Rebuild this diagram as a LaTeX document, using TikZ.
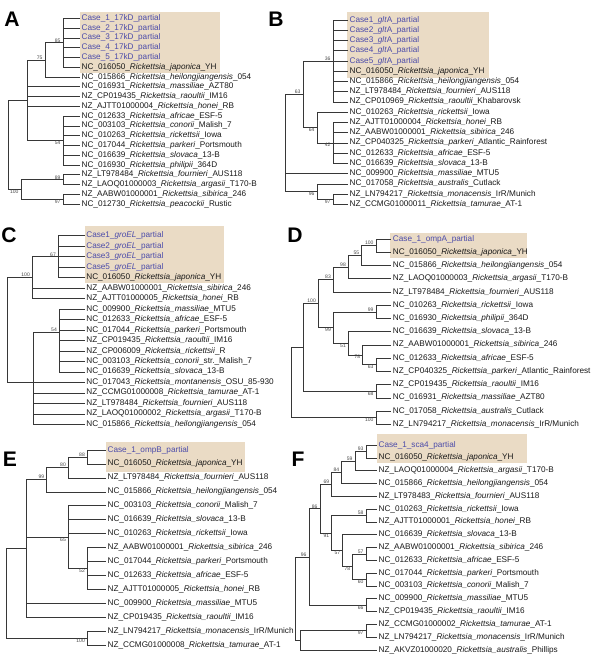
\documentclass[tikz,border=0pt]{standalone}
\usepackage{fontspec}
\setmainfont{Liberation Sans}
\usetikzlibrary{positioning}
\definecolor{boxtan}{RGB}{234,219,197}
\definecolor{casecol}{RGB}{76,76,170}
\definecolor{leafcol}{RGB}{25,25,25}
\definecolor{brcol}{RGB}{55,55,55}
\definecolor{bscol}{RGB}{70,70,70}
\newcommand\leaffont{\fontsize{7}{8}\selectfont}
\newcommand\bsfont{\fontsize{4.3}{5}\selectfont}
\newcommand\rick[1]{\textit{Rickettsia\_#1}}
\newcommand\clade[2]{\foreach \ch in {#2}{\draw[branch] (#1) |- (\ch);}}
\newcommand\bsa[2]{\node[bs,anchor=south east] at (#1) {#2};}
\newcommand\bsb[2]{\node[bs,anchor=north east] at (#1) {#2};}
\tikzset{
  leaf/.style={anchor=west, inner xsep=1.2pt, inner ysep=0pt, text height=5.1pt, text depth=1.6pt, font=\leaffont, text=leafcol},
  case/.style={leaf, text=casecol},
  branch/.style={draw=brcol, line width=0.5pt},
  bs/.style={font=\bsfont, text=bscol, inner sep=0.3pt, xshift=-1.6pt},
  panel/.style={font=\fontsize{18}{18}\selectfont\bfseries, inner sep=0pt}
}
\begin{document}
\begin{tikzpicture}[x=0.03cm,y=-0.03cm]
\useasboundingbox (0,0) rectangle (600,657);
%%%%% A : 17kD %%%%%
\fill[boxtan] (80,11.7) rectangle (220,73.3);
\node[panel] (pA) at (12,19) {A};
\foreach \tx [count=\i from 0] in {1,2,3,4,5}
  \node[case] (a\i) at (80,{18.3+9.78*\i}) {Case\_\tx\_17kD\_partial};
\foreach \tx [count=\i from 5] in {NC\_016050\_\rick{japonica}\_YH, NC\_015866\_\rick{heilongjiangensis}\_054, NC\_016931\_\rick{massiliae}\_AZT80, NZ\_CP019435\_\rick{raoultii}\_IM16, NZ\_AJTT01000004\_\rick{honei}\_RB, NC\_012633\_\rick{africae}\_ESF-5, NC\_003103\_\rick{conorii}\_Malish\_7, NC\_010263\_\rick{rickettsii}\_Iowa, NC\_017044\_\rick{parkeri}\_Portsmouth, NC\_016639\_\rick{slovaca}\_13-B, NC\_016930\_\rick{philipii}\_364D, NZ\_LT978484\_\rick{fournieri}\_AUS118, NZ\_LAOQ01000003\_\rick{argasii}\_T170-B, NZ\_AABW01000001\_\rick{sibirica}\_246, NC\_012730\_\rick{peacockii}\_Rustic}
  \node[leaf] (a\i) at (80,{18.3+9.78*\i}) {\tx};
\coordinate (a85) at (63,42.75);
\coordinate (a75) at (45,59.87);
\coordinate (a54) at (63,140.55);
\coordinate (aM) at (27,100.21);
\coordinate (a89) at (63,179.67);
\coordinate (a97) at (63,199.23);
\coordinate (a100) at (21,189.45);
\coordinate (aR) at (8,144.83);
\clade{a85}{a0.west,a1.west,a2.west,a3.west,a4.west,a5.west}
\clade{a75}{a85,a6.west}
\clade{a54}{a10.west,a11.west,a12.west,a13.west,a14.west,a15.west}
\clade{aM}{a75,a7.west,a8.west,a9.west,a54}
\clade{a89}{a16.west,a17.west}
\clade{a97}{a18.west,a19.west}
\clade{a100}{a89,a97}
\clade{aR}{aM,a100}
\bsa{a85}{85} \bsa{a75}{75} \bsb{a54}{54} \bsa{a89}{89} \bsb{a100}{100} \bsb{a97}{97}

%%%%% B : gltA %%%%%
\fill[boxtan] (346.7,11.7) rectangle (489.3,78.3);
\node[panel] (pB) at (276,19) {B};
\foreach \tx [count=\i from 0] in {1,2,3,4,5}
  \node[case] (b\i) at (348,{20+10.24*\i}) {Case\tx\_\textit{glt}A\_partial};
\foreach \tx [count=\i from 5] in {NC\_016050\_\rick{japonica}\_YH, NC\_015866\_\rick{heilongjiangensis}\_054, NZ\_LT978484\_\rick{fournieri}\_AUS118, NZ\_CP010969\_\rick{raoultii}\_Khabarovsk, NC\_010263\_\rick{rickettsii}\_Iowa, NZ\_AJTT01000004\_\rick{honei}\_RB, NZ\_AABW01000001\_\rick{sibirica}\_246, NZ\_CP040325\_\rick{parkeri}\_Atlantic\_Rainforest, NC\_012633\_\rick{africae}\_ESF-5, NC\_016639\_\rick{slovaca}\_13-B, NC\_009900\_\rick{massiliae}\_MTU5, NC\_017058\_\rick{australis}\_Cutlack, NZ\_LN794217\_\rick{monacensis}\_IrR/Munich, NZ\_CCMG01000011\_\rick{tamurae}\_AT-1}
  \node[leaf] (b\i) at (348,{20+10.24*\i}) {\tx};
\coordinate (b36) at (333,60.96);
\coordinate (b42) at (333,142.88);
\coordinate (b64) at (317,127.52);
\coordinate (b63) at (303,94.24);
\coordinate (b97) at (333,199.2);
\coordinate (b96) at (317,191.52);
\coordinate (bR) at (285,142.88);
\clade{b36}{b0.west,b1.west,b2.west,b3.west,b4.west,b5.west,b6.west,b7.west,b8.west}
\clade{b42}{b10.west,b11.west,b12.west,b13.west,b14.west}
\clade{b64}{b9.west,b42}
\clade{b63}{b36,b64}
\clade{b97}{b17.west,b18.west}
\clade{b96}{b16.west,b97}
\clade{bR}{b63,b15.west,b96}
\bsa{b36}{36} \bsa{b63}{63} \bsb{b64}{64} \bsb{b42}{42} \bsb{b96}{96} \bsb{b97}{97}

%%%%% C : groEL %%%%%
\fill[boxtan] (84.7,226.5) rectangle (224,282.5);
\node[panel] (pC) at (9,235) {C};
\foreach \tx [count=\i from 0] in {1,2,3,5}
  \node[case] (c\i) at (84.7,{235.7+10.48*\i}) {Case\tx\_\textit{groEL}\_partial};
\foreach \tx [count=\i from 4] in {NC\_016050\_\rick{japonica}\_YH, NZ\_AABW01000001\_\rick{sibirica}\_246, NZ\_AJTT01000005\_\rick{honei}\_RB, NC\_009900\_\rick{massiliae}\_MTU5, NC\_012633\_\rick{africae}\_ESF-5, NC\_017044\_\rick{parkeri}\_Portsmouth, NZ\_CP019435\_\rick{raoultii}\_IM16, NZ\_CP006009\_\rick{rickettsii}\_R, NC\_003103\_\rick{conorii}\_str.\_Malish\_7, NC\_016639\_\rick{slovaca}\_13-B, NC\_017043\_\rick{montanensis}\_OSU\_85-930, NZ\_CCMG01000008\_\rick{tamurae}\_AT-1, NZ\_LT978484\_\rick{fournieri}\_AUS118, NZ\_LAOQ01000002\_\rick{argasii}\_T170-B, NC\_015866\_\rick{heilongjiangensis}\_054}
  \node[leaf] (c\i) at (84.7,{235.7+10.48*\i}) {\tx};
\coordinate (c67) at (58.3,256.66);
\coordinate (c100) at (32.3,277.62);
\coordinate (c54) at (59.3,332);
\coordinate (cX) at (33.3,382.42);
\coordinate (cR) at (7.3,330.02);
\clade{c67}{c0.west,c1.west,c2.west,c3.west,c4.west}
\clade{c100}{c67,c5.west,c6.west}
\clade{c54}{c7.west,c8.west,c9.west,c10.west,c11.west,c12.west,c13.west}
\clade{cX}{c54,c14.west,c15.west,c16.west,c17.west,c18.west}
\clade{cR}{c100,cX}
\bsa{c67}{67} \bsa{c100}{100} \bsa{c54}{54}

%%%%% D : ompA %%%%%
\fill[boxtan] (390,233.3) rectangle (526.7,258.3);
\node[panel] (pD) at (295,235) {D};
\node[case] (d0) at (391.3,239) {Case\_1\_ompA\_partial};
\foreach \tx [count=\i from 1] in {NC\_016050\_\rick{japonica}\_YH, NC\_015866\_\rick{heilongjiangensis}\_054, NZ\_LAOQ01000003\_\rick{argasii}\_T170-B, NZ\_LT978484\_\rick{fournieri}\_AUS118, NC\_010263\_\rick{rickettsii}\_Iowa, NC\_016930\_\rick{philipii}\_364D, NC\_016639\_\rick{slovaca}\_13-B, NZ\_AABW01000001\_\rick{sibirica}\_246, NC\_012633\_\rick{africae}\_ESF-5, NZ\_CP040325\_\rick{parkeri}\_Atlantic\_Rainforest, NZ\_CP019435\_\rick{raoultii}\_IM16, NC\_016931\_\rick{massiliae}\_AZT80, NC\_017058\_\rick{australis}\_Cutlack, NZ\_LN794217\_\rick{monacensis}\_IrR/Munich}
  \node[leaf] (d\i) at (391.3,{239+13.24*\i}) {\tx};
\coordinate (d100a) at (376,245.62);
\coordinate (d55) at (361.7,255.55);
\coordinate (d98) at (348.3,267.14);
\coordinate (d83) at (333.3,279.55);
\coordinate (d99a) at (376,311.82);
\coordinate (d63) at (376,364.78);
\coordinate (d78) at (362.7,354.85);
\coordinate (d51) at (348.3,343.27);
\coordinate (d99b) at (333.3,327.55);
\coordinate (d100b) at (318.3,303.55);
\coordinate (d68) at (376,391.26);
\coordinate (dN) at (303.3,347.41);
\coordinate (d100c) at (376,417.74);
\coordinate (dR) at (291.7,382.58);
\clade{d100a}{d0.west,d1.west}
\clade{d55}{d100a,d2.west}
\clade{d98}{d55,d3.west}
\clade{d83}{d98,d4.west}
\clade{d99a}{d5.west,d6.west}
\clade{d63}{d9.west,d10.west}
\clade{d78}{d8.west,d63}
\clade{d51}{d7.west,d78}
\clade{d99b}{d99a,d51}
\clade{d100b}{d83,d99b}
\clade{d68}{d11.west,d12.west}
\clade{dN}{d100b,d68}
\clade{d100c}{d13.west,d14.west}
\clade{dR}{dN,d100c}
\bsa{d100a}{100} \bsa{d55}{55} \bsa{d98}{98} \bsa{d83}{83} \bsa{d100b}{100} \bsa{d99a}{99}
\bsb{d99b}{99} \bsb{d51}{51} \bsb{d78}{78} \bsb{d63}{63} \bsb{d68}{68} \bsb{d100c}{100}

%%%%% E : ompB %%%%%
\fill[boxtan] (106,441.7) rectangle (245,471.7);
\node[panel] (pE) at (10,459) {E};
\node[case] (e0) at (106,450) {Case\_1\_ompB\_partial};
\foreach \tx [count=\i from 1] in {NC\_016050\_\rick{japonica}\_YH, NZ\_LT978484\_\rick{fournieri}\_AUS118, NC\_015866\_\rick{heilongjiangensis}\_054, NC\_003103\_\rick{conorii}\_Malish\_7, NC\_016639\_\rick{slovaca}\_13-B, NC\_010263\_\rick{rickettsii}\_Iowa, NZ\_AABW01000001\_\rick{sibirica}\_246, NC\_017044\_\rick{parkeri}\_Portsmouth, NC\_012633\_\rick{africae}\_ESF-5, NZ\_AJTT01000005\_\rick{honei}\_RB, NC\_009900\_\rick{massiliae}\_MTU5, NZ\_CP019435\_\rick{raoultii}\_IM16, NZ\_LN794217\_\rick{monacensis}\_IrR/Munich, NZ\_CCMG01000008\_\rick{tamurae}\_AT-1}
  \node[leaf] (e\i) at (106,{450+13.93*\i}) {\tx};
\coordinate (e88) at (87.3,456.97);
\coordinate (e80) at (68.3,467.41);
\coordinate (e99) at (46.7,479.6);
\coordinate (e52) at (87.3,568.41);
\coordinate (e65) at (68.3,537.06);
\coordinate (eM) at (26.7,548.38);
\coordinate (e100) at (87.3,638.06);
\coordinate (eR) at (6,593.22);
\clade{e88}{e0.west,e1.west}
\clade{e80}{e88,e2.west}
\clade{e99}{e80,e3.west}
\clade{e52}{e7.west,e8.west,e9.west,e10.west}
\clade{e65}{e4.west,e5.west,e6.west,e52}
\clade{eM}{e99,e65,e11.west,e12.west}
\clade{e100}{e13.west,e14.west}
\clade{eR}{eM,e100}
\bsa{e88}{88} \bsa{e80}{80} \bsa{e99}{99} \bsb{e65}{65} \bsb{e52}{52} \bsb{e100}{100}

%%%%% F : sca4 %%%%%
\fill[boxtan] (377,434) rectangle (527,463.3);
\node[panel] (pF) at (298,459) {F};
\node[case] (f0) at (377,445) {Case\_1\_sca4\_partial};
\foreach \tx [count=\i from 1] in {NC\_016050\_\rick{japonica}\_YH, NZ\_LAOQ01000004\_\rick{argasii}\_T170-B, NC\_015866\_\rick{heilongjiangensis}\_054, NZ\_LT978483\_\rick{fournieri}\_AUS118, NC\_010263\_\rick{rickettsii}\_Iowa, NZ\_AJTT01000001\_\rick{honei}\_RB, NC\_016639\_\rick{slovaca}\_13-B, NZ\_AABW01000001\_\rick{sibirica}\_246, NC\_012633\_\rick{africae}\_ESF-5, NC\_017044\_\rick{parkeri}\_Portsmouth, NC\_003103\_\rick{conorii}\_Malish\_7, NC\_009900\_\rick{massiliae}\_MTU5, NZ\_CP019435\_\rick{raoultii}\_IM16, NZ\_CCMG01000002\_\rick{tamurae}\_AT-1, NZ\_LN794217\_\rick{monacensis}\_IrR/Munich, NZ\_AKVZ01000020\_\rick{australis}\_Phillips}
  \node[leaf] (f\i) at (377,{445+12.81*\i}) {\tx};
\coordinate (f93) at (366,451.41);
\coordinate (f59) at (355,461.02);
\coordinate (f84) at (341.7,472.22);
\coordinate (f69) at (331.7,484.23);
\coordinate (f58) at (366,515.46);
\coordinate (f57a) at (366,553.89);
\coordinate (f60) at (366,579.5);
\coordinate (f78) at (352.7,566.7);
\coordinate (f57b) at (342.7,550.68);
\coordinate (f91) at (331.7,533.07);
\coordinate (f86) at (320,508.65);
\coordinate (f66) at (366,605.13);
\coordinate (f96) at (309,556.89);
\coordinate (f97) at (366,630.75);
\coordinate (fQ) at (300,640.36);
\coordinate (fR) at (295,598.6);
\clade{f93}{f0.west,f1.west}
\clade{f59}{f93,f2.west}
\clade{f84}{f59,f3.west}
\clade{f69}{f84,f4.west}
\clade{f58}{f5.west,f6.west}
\clade{f57a}{f8.west,f9.west}
\clade{f60}{f10.west,f11.west}
\clade{f78}{f57a,f60}
\clade{f57b}{f7.west,f78}
\clade{f91}{f58,f57b}
\clade{f86}{f69,f91}
\clade{f66}{f12.west,f13.west}
\clade{f96}{f86,f66}
\clade{f97}{f14.west,f15.west}
\clade{fQ}{f97,f16.west}
\clade{fR}{f96,fQ}
\bsa{f93}{93} \bsa{f59}{59} \bsa{f84}{84} \bsa{f69}{69} \bsa{f86}{86} \bsa{f58}{58} \bsa{f57a}{57} \bsa{f96}{96}
\bsb{f91}{91} \bsb{f57b}{57} \bsb{f78}{78} \bsb{f60}{60} \bsb{f66}{66} \bsb{f97}{97}
\end{tikzpicture}
\end{document}
